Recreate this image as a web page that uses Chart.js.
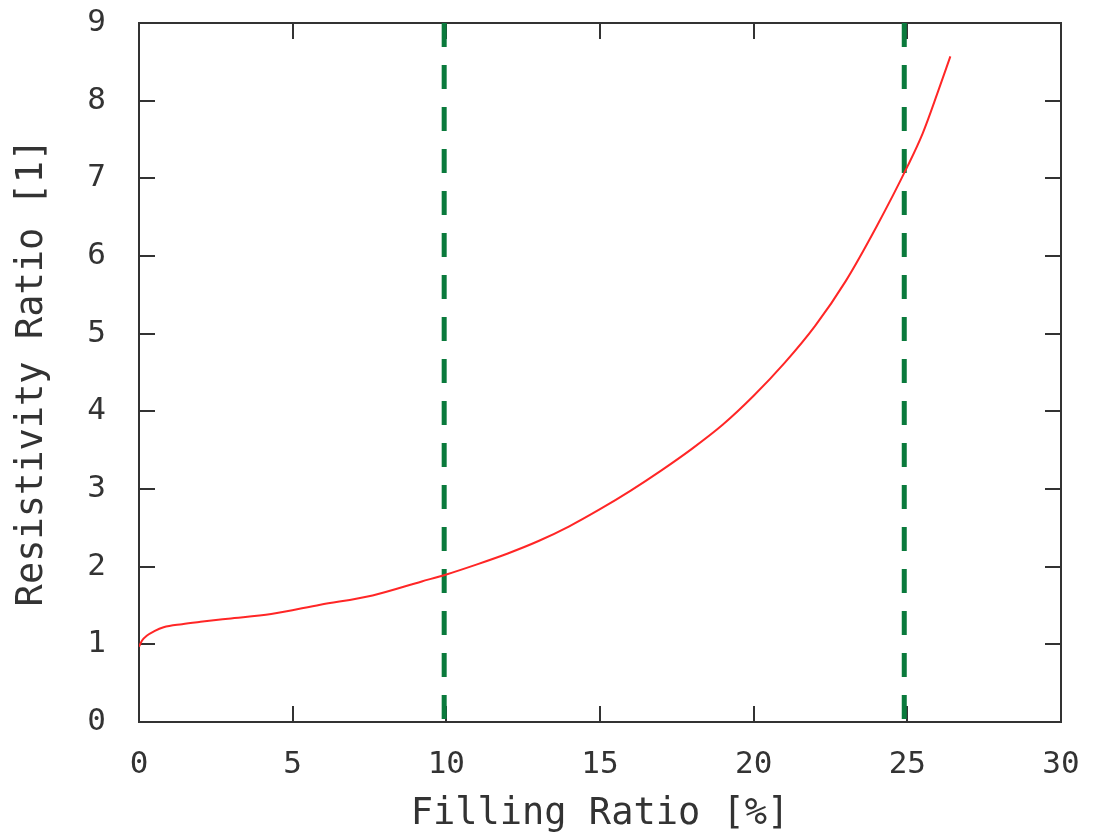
<html lang="en">
<head>
  <meta charset="utf-8">
  <script src="https://cdn.jsdelivr.net/npm/chart.js@4.4.1/dist/chart.umd.min.js"></script>
  <style>
    body { margin: 0; background: #fff; }
    #wrap { width: 1099px; height: 838px; }
  </style>
</head>
<body>
<div id="wrap"><canvas id="myChart" width="1099" height="838"></canvas></div>
<script>
  // filling ratio [%] vs resistivity ratio
  const fillRatio = [0, 0.1, 0.25, 0.5, 0.8, 1.4, 2.0, 2.9, 4.3, 5.9, 7.6, 9.2, 10.0, 11.0, 12.0, 13.0,
                     14.0, 15.0, 16.0, 17.0, 18.0, 19.0, 20.0, 21.0, 22.0, 23.0, 24.0, 25.0, 25.5, 26.0, 26.4];
  const resistRatio = [0.97, 1.05, 1.11, 1.17, 1.22, 1.26, 1.29, 1.33, 1.39, 1.51, 1.63, 1.81, 1.90, 2.03, 2.17, 2.33,
                       2.52, 2.74, 2.98, 3.24, 3.52, 3.83, 4.20, 4.62, 5.10, 5.68, 6.38, 7.15, 7.58, 8.12, 8.57];
  // vertical markers
  const markerX = [9.93, 24.9];
  const yRange = [0, 9];
  const xRange = [0, 30];

  const mono = "'DejaVu Sans Mono', monospace";

  // gnuplot style box with inward ticks on all four sides
  const frameTicks = {
    id: 'frameTicks',
    beforeDatasetsDraw(chart) {
      const { ctx, chartArea: a, scales: { x, y } } = chart;
      ctx.save();
      ctx.strokeStyle = '#333';
      ctx.lineWidth = 2;
      ctx.strokeRect(a.left, a.top, a.right - a.left, a.bottom - a.top);
      ctx.beginPath();
      x.ticks.forEach(t => {
        const px = Math.round(x.getPixelForValue(t.value));
        ctx.moveTo(px, a.bottom); ctx.lineTo(px, a.bottom - 16);
        ctx.moveTo(px, a.top); ctx.lineTo(px, a.top + 16);
      });
      y.ticks.forEach(t => {
        const py = Math.round(y.getPixelForValue(t.value));
        ctx.moveTo(a.left, py); ctx.lineTo(a.left + 16, py);
        ctx.moveTo(a.right, py); ctx.lineTo(a.right - 16, py);
      });
      ctx.stroke();
      ctx.restore();
    }
  };

  const markerSets = markerX.map(v => ({
    data: [{ x: v, y: yRange[1] }, { x: v, y: yRange[0] }],
    borderColor: '#0a7a3c',
    borderWidth: 5,
    borderDash: [24, 18],
    pointRadius: 0,
    fill: false
  }));

  const chartVar = new Chart(document.getElementById('myChart'), {
    type: 'line',
    data: {
      datasets: [
        {
          data: fillRatio.map((v, i) => ({ x: v, y: resistRatio[i] })),
          borderColor: '#ff2626',
          borderWidth: 2,
          pointRadius: 0,
          cubicInterpolationMode: 'monotone',
          fill: false
        },
        ...markerSets
      ]
    },
    options: {
      responsive: false,
      animation: false,
      layout: { padding: { top: 23, right: 38, left: 0, bottom: 0 } },
      plugins: { legend: { display: false }, tooltip: { enabled: false } },
      scales: {
        x: {
          type: 'linear',
          min: xRange[0], max: xRange[1],
          grid: { display: false },
          border: { display: false },
          ticks: { stepSize: 5, padding: 16, color: '#333', font: { family: mono, size: 31 } },
          title: { display: true, text: 'Filling Ratio [%]', color: '#333', padding: { top: 0, bottom: 1 },
                   font: { family: mono, size: 37 } },
          afterFit(s) { s.height = 116; s.paddingLeft = 0; s.paddingRight = 0; }
        },
        y: {
          type: 'linear',
          min: yRange[0], max: yRange[1],
          grid: { display: false },
          border: { display: false },
          ticks: { stepSize: 1, padding: 25, color: '#333', font: { family: mono, size: 31 } },
          title: { display: true, text: 'Resistivity Ratio [1]', color: '#333', padding: { top: 10, bottom: 8 },
                   font: { family: mono, size: 37 } },
          afterFit(s) { s.width = 139; s.paddingTop = 0; s.paddingBottom = 0; }
        }
      }
    },
    plugins: [frameTicks]
  });
</script>
</body>
</html>
